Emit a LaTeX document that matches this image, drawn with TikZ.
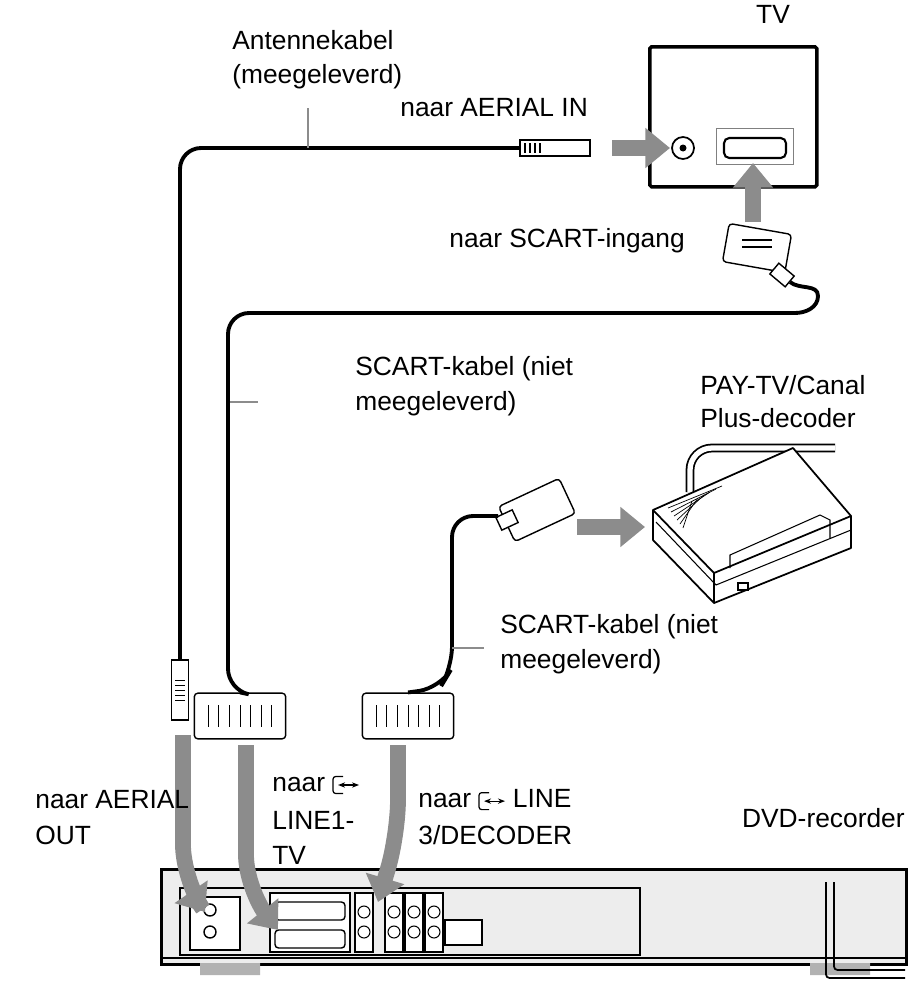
\documentclass[tikz,border=0pt]{standalone}
\usepackage{fontspec}
\setmainfont{Liberation Sans}
\usetikzlibrary{arrows.meta,positioning}

\definecolor{arrowgray}{HTML}{8C8C8C}
\definecolor{panelgray}{HTML}{EDEDED}

\tikzset{
  lbl/.style={font=\fontsize{15}{18}\selectfont, anchor=west, inner sep=0pt, align=left},
  cable/.style={line width=2.2pt, rounded corners=12pt},
  tick/.style={arrowgray, line width=1.6pt},
  bigarrow/.style={arrowgray, line width=9pt, -{Triangle[length=14pt,width=22pt]}},
  scart/.style={draw, line width=0.8pt, fill=white, minimum width=52pt, minimum height=26pt, rounded corners=2pt},
  coax/.style={draw, line width=0.8pt, fill=white, minimum width=10pt, minimum height=34pt},
}

% small input/output symbol
\newcommand{\ioicon}{\tikz[x=1cm, y=1cm, baseline=-3pt, line width=0.7pt]{\draw[rounded corners=1.5pt] (0.2,0.2) -- (0,0.2) -- (0,-0.14) -- (0.2,-0.14); \draw[{Stealth[length=4pt]}-{Stealth[length=4pt]}] (0.1,0.03) -- (0.52,0.03);}}

\begin{document}
\begin{tikzpicture}[x=0.02cm, y=-0.02cm]
  \useasboundingbox (0,0) rectangle (918,987);

  % TV
  \node[draw, line width=2pt, minimum width=167*0.02cm, minimum height=140*0.02cm, anchor=north west, rounded corners=1pt] (tv) at (648,45) {};
  \node[font=\fontsize{15}{18}\selectfont] (tvlbl) at (773,14) {TV};
  \draw[line width=1pt] (683,148) circle (11) ; \fill (683,148) circle (3.5);
  \node[draw=gray, fill=white, minimum width=77*0.02cm, minimum height=36*0.02cm, anchor=north west, inner sep=0pt] (tvscart) at (716,128) {};
  \draw[line width=1.2pt, rounded corners=3pt] (724,138) rectangle (786,158);
  \coordinate (aerialin) at (670,148);
  \coordinate (scartin) at (753,163);

  % antenna plug at TV
  \node[draw, line width=0.8pt, fill=white, minimum width=40pt, minimum height=9pt, inner sep=0pt] (aerialplug) at (555,148) {};
  \draw[line width=0.6pt] (525,143) -- (525,153) (530,143) -- (530,153) (535,143) -- (535,153) (540,143) -- (540,153);
  \draw[bigarrow] (612,148) -- (aerialin);

  % antenna cable
  \node[coax] (antplug) at (180,690) {};
  \foreach \yy in {680,685,690,695,700} \draw[line width=0.5pt] (175,\yy) -- (185,\yy);
  \draw[cable] (antplug.north) |- (aerialplug.west);
  \draw[tick] (308,108) -- (308,148);
  \node[lbl] (antlbl) at (232,40) {Antennekabel};
  \node[lbl] (antlbl2) at (232,77) {(meegeleverd)};
  \node[lbl] (aerialinlbl) at (400,108) {naar AERIAL IN};

  % SCART plug at TV
  \node[scart, minimum width=36pt, minimum height=22pt, rotate=-10] (tvplug) at (757,248) {};
  \draw[line width=0.6pt] (742,240) -- (772,240) (742,247) -- (772,247);
  \draw[line width=0.8pt, fill=white, rotate around={-40:(782,275)}] (772,268) rectangle (792,282);
  \draw[bigarrow] (753,222) -- (scartin);
  \node[lbl] (scartinlbl) at (449,241) {naar SCART-ingang};

  % SCART plugs at recorder
  \node[scart] (line1plug) at (240,716) {};
  \node[scart] (line3plug) at (408,716) {};
  \foreach \n in {line1plug, line3plug} {
    \foreach \k in {-18,-12,...,18} \draw[line width=0.5pt] ([xshift=\k pt, yshift=-6pt]\n.center) -- ([xshift=\k pt, yshift=6pt]\n.center);
  }

  % SCART cable to TV
  \draw[cable] (line1plug.north) -- (228,690) |- (795,313);
  \draw[line width=2.2pt] (795,313) to[out=0, in=-90] (818,296) to[out=90, in=-40] (790,282);
  \draw[tick] (230,402) -- (258,402);
  \node[lbl] (scart1lbl) at (355,369) {SCART-kabel (niet};
  \node[lbl] (scart1lbl2) at (355,404) {meegeleverd)};

  % decoder
  \draw[line width=1pt, double=white, double distance=3pt] (690,492) -- (690,470) to[out=90, in=180] (712,448) -- (835,448);
  \draw[line width=1pt, fill=white, line join=round]
    (653,510) -- (793,448) -- (851,516) -- (851,548) -- (714,603) -- (653,540) -- cycle;
  \draw[line width=1pt] (653,510) -- (714,573) -- (851,516) (714,573) -- (714,603);
  \draw[line width=0.6pt] (656,522) -- (716,585) -- (851,530);
  \draw[line width=0.6pt] (730,568) -- (730,555) -- (820,515) -- (830,520) -- (830,538);
  \draw[line width=0.6pt] (738,583) rectangle (748,590);
  \foreach \k in {0,...,5} \draw[line width=0.4pt] (668+3*\k,508+4*\k) -- (722-6*\k,486+3*\k);
  \node[lbl] (declbl) at (700,385) {PAY-TV/Canal};
  \node[lbl] (declbl2) at (700,418) {Plus-decoder};
  \coordinate (decin) at (645,527);

  % SCART plug at decoder
  \node[scart, minimum width=38pt, minimum height=22pt, rotate=25] (decplug) at (537,510) {};
  \draw[line width=0.8pt, fill=white, rotate around={25:(507,520)}] (498,513) rectangle (516,527);
  \draw[cable] (line3plug.north) -- (440,688) -- (452,668) |- (498,516);
  \draw[bigarrow] (577,527) -- (decin);
  \draw[tick] (452,648) -- (484,648);
  \node[lbl] (scart2lbl) at (500,627) {SCART-kabel (niet};
  \node[lbl] (scart2lbl2) at (500,662) {meegeleverd)};

  % DVD recorder
  \node[draw, line width=1.6pt, fill=panelgray, minimum width=745*0.02cm, minimum height=95*0.02cm, anchor=north west, inner sep=0pt] (dvd) at (160,868) {};
  \draw[line width=0.8pt] (180,888) -- (640,888) -- (640,955) -- (180,955) -- cycle;
  \draw[line width=0.8pt] (160,958) -- (905,958);
  \draw[line width=0.8pt, fill=white] (190,897) rectangle (240,950);
  \draw[line width=0.8pt] (210,910) circle (6) (210,932) circle (6);
  \draw[line width=0.8pt, fill=white] (270,893) rectangle (350,952);
  \draw[line width=0.8pt, rounded corners=2pt] (275,902) rectangle (345,920) (275,930) rectangle (345,948);
  \foreach \xx in {355,385,405,425} \draw[line width=0.6pt, fill=white] (\xx,893) rectangle (\xx+18,952);
  \foreach \xx in {364,394,414,434} \foreach \yy in {912,932} \draw[line width=0.6pt] (\xx,\yy) circle (6);
  \draw[line width=0.6pt, fill=white] (445,920) rectangle (482,945);
  \fill[gray!60] (200,963) rectangle (260,975) (810,963) rectangle (870,975);
  \draw[line width=1pt, rounded corners=2pt] (826,882) -- (826,978) -- (905,978) (834,882) -- (834,970) -- (905,970);
  \node[lbl, anchor=east] (dvdlbl) at (905,818) {DVD-recorder};

  % arrows into recorder
  \draw[bigarrow, rounded corners=20pt] (183,735) -- (183,880) -- (205,912);
  \draw[bigarrow, rounded corners=20pt] (246,745) -- (246,890) -- (278,930);
  \draw[bigarrow, rounded corners=20pt] (398,745) -- (398,835) -- (378,902);

  \node[lbl] (aeroutlbl) at (35,800) {naar AERIAL};
  \node[lbl] (aeroutlbl2) at (35,835) {OUT};
  \node[lbl] (line1lbl) at (272,785) {naar \ioicon};
  \node[lbl] (line1lbl2) at (272,820) {LINE1-};
  \node[lbl] (line1lbl3) at (272,855) {TV};
  \node[lbl] (line3lbl) at (418,800) {naar \ioicon\ LINE};
  \node[lbl] (line3lbl2) at (418,835) {3/DECODER};
\end{tikzpicture}
\end{document}
